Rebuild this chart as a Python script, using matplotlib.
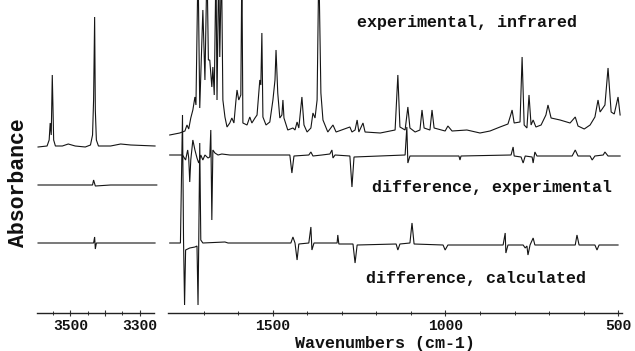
import matplotlib
matplotlib.use("Agg")
import matplotlib.pyplot as plt
from matplotlib.ticker import FixedLocator, FixedFormatter

plt.rcParams['font.family'] = ['Liberation Mono', 'DejaVu Sans']

# ---------------- data (wavenumber cm-1, absorbance, arbitrary offsets) ----------------
# High-frequency panel (3600-3260 cm-1)
hf_ir_wn = [3593, 3567, 3561, 3558, 3555, 3552, 3548, 3543, 3523, 3506, 3486, 3457,
            3442, 3436, 3433, 3430, 3428, 3425, 3419, 3384, 3355, 3326, 3256]
hf_ir_abs = [1.66, 1.67, 1.73, 1.90, 1.78, 2.38, 1.73, 1.67, 1.67, 1.69, 1.67, 1.66,
             1.68, 1.78, 2.13, 2.96, 2.03, 1.73, 1.67, 1.67, 1.69, 1.68, 1.67]

hf_dexp_wn = [3593, 3436, 3433, 3428, 3384, 3251]
hf_dexp_abs = [1.28, 1.28, 1.33, 1.27, 1.28, 1.28]

hf_dcalc_wn = [3593, 3433, 3430, 3428, 3425, 3256]
hf_dcalc_abs = [0.70, 0.70, 0.76, 0.64, 0.70, 0.70]

# Fingerprint panel (1800-500 cm-1)
lf_ir_wn = [1799, 1770, 1755, 1749, 1744, 1738, 1732, 1726, 1723, 1717, 1712, 1703,
            1697, 1691, 1687, 1683, 1677, 1674, 1670, 1665, 1662, 1657, 1654, 1649,
            1645, 1639, 1633, 1625, 1619, 1613, 1607, 1604, 1599, 1593, 1590, 1587,
            1575, 1567, 1561, 1552, 1546, 1541, 1538, 1535, 1532, 1529, 1520, 1509,
            1500, 1494, 1491, 1486, 1480, 1474, 1471, 1468, 1457, 1442, 1436, 1430,
            1425, 1416, 1410, 1401, 1390, 1384, 1378, 1372, 1367, 1361, 1355, 1341,
            1326, 1317, 1277, 1271, 1262, 1256, 1251, 1239, 1233, 1189, 1146, 1138,
            1132, 1117, 1109, 1103, 1088, 1074, 1068, 1062, 1045, 1039, 1033, 1001,
            993, 981, 938, 900, 871, 842, 819, 811, 807, 801, 784, 778, 772, 764,
            758, 752, 746, 738, 723, 709, 703, 694, 668, 639, 624, 616, 598, 581,
            567, 558, 552, 538, 529, 520, 511, 500, 494]
lf_ir_abs = [1.78, 1.80, 1.82, 1.88, 1.84, 1.95, 2.03, 2.16, 2.08, 3.50, 2.05, 3.03,
             2.33, 3.50, 2.53, 2.53, 2.26, 2.46, 2.18, 3.50, 2.13, 3.50, 2.56, 3.50,
             2.13, 1.96, 1.86, 1.90, 1.95, 1.90, 2.13, 2.23, 2.13, 2.18, 3.50, 1.90,
             1.88, 1.96, 1.90, 1.95, 1.98, 2.20, 2.33, 2.28, 2.80, 1.96, 1.88, 1.91,
             2.13, 2.33, 2.63, 2.20, 1.95, 1.98, 2.13, 1.95, 1.83, 1.85, 1.83, 1.91,
             1.85, 2.16, 1.88, 1.81, 1.85, 2.00, 1.95, 2.13, 3.50, 2.20, 1.93, 1.81,
             1.88, 1.81, 1.86, 1.81, 1.83, 1.93, 1.81, 1.90, 1.81, 1.80, 1.83, 2.38,
             1.86, 1.83, 2.06, 1.85, 1.81, 1.83, 2.03, 1.85, 1.83, 2.03, 1.85, 1.82,
             1.87, 1.82, 1.83, 1.80, 1.82, 1.86, 1.89, 1.98, 2.03, 1.90, 1.91, 2.56,
             1.88, 1.85, 2.18, 1.88, 1.93, 1.86, 1.88, 1.98, 2.08, 1.95, 1.93, 1.90,
             1.96, 1.87, 1.84, 1.88, 1.96, 2.13, 2.01, 2.08, 2.45, 2.01, 1.99, 2.16,
             1.98]

lf_dexp_wn = [1799, 1762, 1753, 1747, 1744, 1741, 1738, 1732, 1726, 1720, 1715, 1709,
              1703, 1697, 1688, 1683, 1680, 1677, 1674, 1668, 1659, 1648, 1625, 1451,
              1445, 1439, 1396, 1390, 1384, 1358, 1335, 1329, 1326, 1320, 1277, 1271,
              1265, 1117, 1112, 1109, 1103, 961, 958, 955, 810, 804, 801, 781, 775,
              769, 749, 746, 741, 735, 633, 624, 616, 581, 575, 567, 543, 538, 529, 494]
lf_dexp_abs = [1.58, 1.58, 1.53, 1.63, 1.55, 1.31, 1.53, 1.73, 1.63, 1.55, 1.50, 1.58,
               1.53, 1.58, 1.55, 1.56, 1.83, 0.93, 1.63, 1.60, 1.58, 1.59, 1.58, 1.58,
               1.40, 1.57, 1.58, 1.61, 1.57, 1.58, 1.59, 1.63, 1.55, 1.58, 1.57, 1.26,
               1.56, 1.58, 1.86, 1.50, 1.57, 1.57, 1.53, 1.57, 1.58, 1.66, 1.57, 1.56,
               1.50, 1.57, 1.56, 1.50, 1.61, 1.57, 1.57, 1.63, 1.57, 1.57, 1.53, 1.57,
               1.58, 1.61, 1.57, 1.57]

lf_dcalc_wn = [1799, 1768, 1762, 1759, 1756, 1753, 1741, 1726, 1720, 1717, 1715, 1712,
               1709, 1703, 1639, 1630, 1448, 1442, 1436, 1430, 1425, 1396, 1390, 1387,
               1381, 1314, 1312, 1309, 1268, 1262, 1256, 1143, 1138, 1132, 1103, 1097,
               1091, 1007, 1001, 993, 833, 827, 825, 819, 775, 769, 764, 761, 755, 746,
               741, 624, 619, 613, 567, 561, 555, 500]
lf_dcalc_abs = [0.70, 0.70, 1.98, 0.73, 0.08, 0.63, 0.65, 0.66, 0.67, 0.08, 0.68, 1.70,
                0.73, 0.70, 0.71, 0.70, 0.70, 0.76, 0.70, 0.53, 0.69, 0.70, 0.86, 0.63,
                0.70, 0.70, 0.78, 0.69, 0.69, 0.50, 0.68, 0.69, 0.63, 0.69, 0.70, 0.90,
                0.69, 0.68, 0.63, 0.68, 0.68, 0.80, 0.60, 0.68, 0.68, 0.65, 0.67, 0.58,
                0.68, 0.75, 0.68, 0.68, 0.78, 0.68, 0.68, 0.63, 0.68, 0.68]

hf_tick_values = [3500, 3400, 3300]
hf_tick_labels = ['3500', '', '3300']
lf_tick_values = [1500, 1000, 500]
lf_tick_labels = ['1500', '1000', '500']

trace_labels = ['experimental, infrared', 'difference, experimental', 'difference, calculated']
x_title = 'Wavenumbers (cm-1)'
y_title = 'Absorbance'

# ---------------- figure ----------------
W, H = 635, 351
fig = plt.figure(figsize=(W / 100, H / 100), dpi=100)
bottom = (H - 313) / H
height = 313 / H
ax_hf = fig.add_axes([37 / W, bottom, 117 / W, height])
ax_lf = fig.add_axes([168 / W, bottom, 453.5 / W, height])

line_kw = dict(color='#151515', lw=0.8, solid_joinstyle='miter')
for x, y in [(hf_ir_wn, hf_ir_abs), (hf_dexp_wn, hf_dexp_abs), (hf_dcalc_wn, hf_dcalc_abs)]:
    ax_hf.plot(x, y, clip_on=False, **line_kw)
for x, y in [(lf_ir_wn, lf_ir_abs), (lf_dexp_wn, lf_dexp_abs), (lf_dcalc_wn, lf_dcalc_abs)]:
    ax_lf.plot(x, y, **line_kw)

ax_hf.set_xlim(3596, 3259)
ax_lf.set_xlim(1804, 490)
for ax in (ax_hf, ax_lf):
    ax.set_ylim(0, 3.13)
    for s in ('top', 'left', 'right'):
        ax.spines[s].set_visible(False)
    ax.spines['bottom'].set_linewidth(1.0)
    ax.spines['bottom'].set_color('#222222')
    ax.set_yticks([])
    ax.tick_params(axis='x', direction='inout', length=4, width=0.8, color='#333333',
                   pad=2.5, labelsize=10.5, labelcolor='#111111')
    ax.tick_params(axis='x', which='minor', direction='inout', length=3, width=0.7,
                   color='#333333')
    ax.patch.set_visible(False)

ax_hf.xaxis.set_major_locator(FixedLocator(hf_tick_values))
ax_hf.xaxis.set_major_formatter(FixedFormatter(hf_tick_labels))
ax_hf.xaxis.set_minor_locator(FixedLocator([3550, 3450, 3350]))
ax_lf.xaxis.set_major_locator(FixedLocator(lf_tick_values))
ax_lf.xaxis.set_major_formatter(FixedFormatter(lf_tick_labels))
ax_lf.xaxis.set_minor_locator(FixedLocator([1700, 1600, 1400, 1300, 1200, 1100,
                                            900, 800, 700, 600]))
for ax in (ax_hf, ax_lf):
    for t in ax.get_xticklabels():
        t.set_fontweight('bold')

txt_kw = dict(fontsize=12, fontweight='bold', color='#111111', family=['Liberation Mono', 'DejaVu Sans'])
fig.text(357 / W, 1 - 27 / H, trace_labels[0], ha='left', va='baseline', **txt_kw)
fig.text(372 / W, 1 - 192 / H, trace_labels[1], ha='left', va='baseline', **txt_kw)
fig.text(366 / W, 1 - 283 / H, trace_labels[2], ha='left', va='baseline', **txt_kw)
fig.text(385 / W, 1 - 348 / H, x_title, ha='center', va='baseline', **txt_kw)
fig.text(19 / W, 1 - 183 / H, y_title, ha='center', va='center', rotation=90,
         fontsize=15.5, fontweight='bold', color='#111111',
         family=['Liberation Mono', 'DejaVu Sans'])

fig.savefig('out.png', dpi=100)
